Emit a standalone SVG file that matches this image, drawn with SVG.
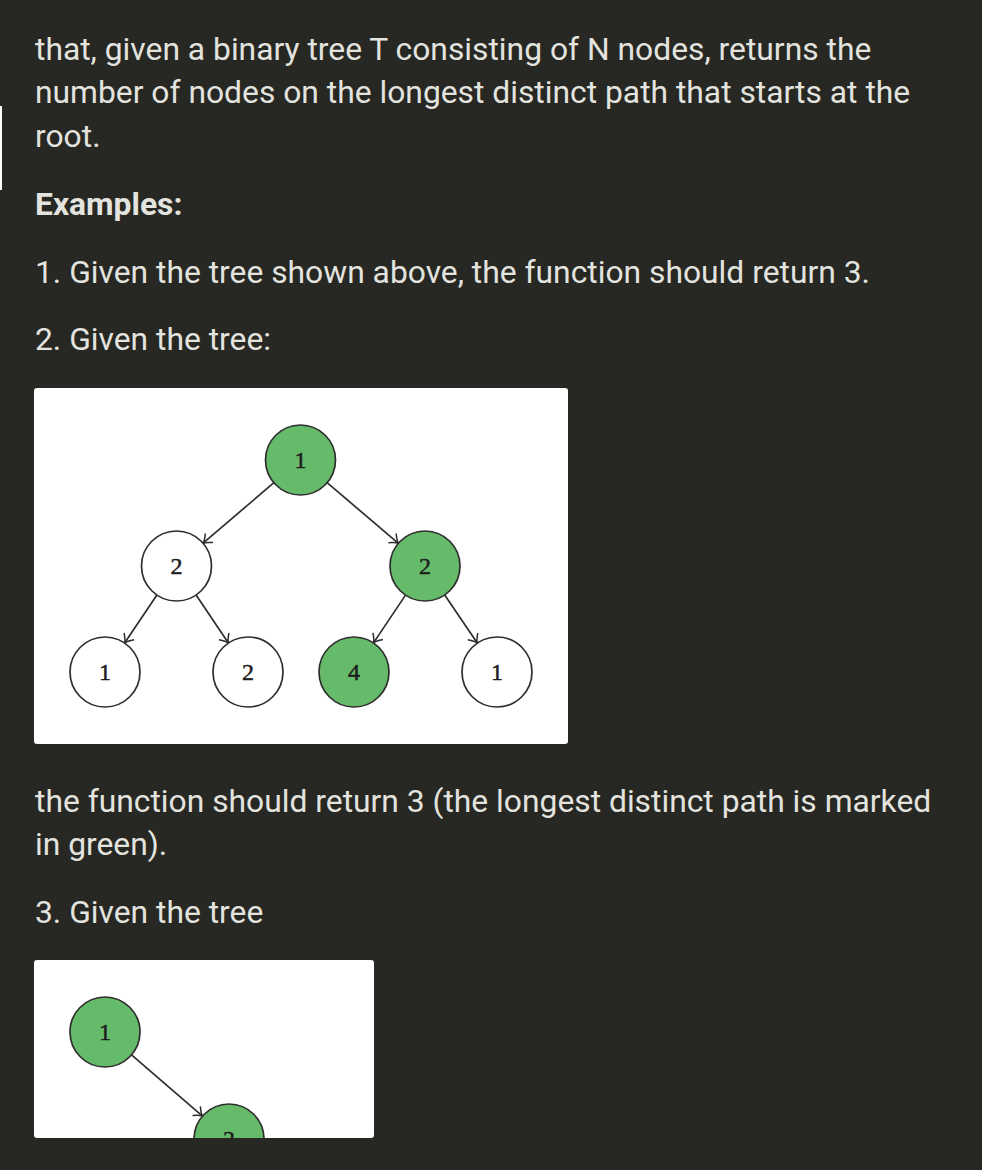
<svg xmlns="http://www.w3.org/2000/svg" width="982" height="1170" viewBox="0 0 982 1170">
<style>
.t{font-family:Roboto,"Liberation Sans",sans-serif;font-size:31.8px;fill:#e3e3df}
.b{font-weight:bold}
.n{stroke:#2e2e2e;stroke-width:1.7}
.g{fill:#66bb6a}
.w{fill:#fff}
.d{font-family:"Liberation Serif","DejaVu Serif",serif;font-size:24px;fill:#1e1e1e;stroke:#1e1e1e;stroke-width:0.5;text-anchor:middle}
.e{stroke:#2e2e2e;stroke-width:1.7;fill:none;marker-end:url(#ar)}
</style>
<defs>
<marker id="ar" markerUnits="userSpaceOnUse" markerWidth="16" markerHeight="16" viewBox="-10 -8 12 16" refX="0" refY="0" orient="auto">
<path d="M-8,-6 Q-3,-1 0,0 Q-3,1 -8,6" fill="none" stroke="#2e2e2e" stroke-width="1.5"/>
</marker>
<clipPath id="clip2"><rect x="34" y="960" width="340" height="178"/></clipPath>
</defs>
<rect x="0" y="0" width="982" height="1170" fill="#272723"/>
<rect x="0" y="106" width="2" height="84" fill="#ffffff"/>
<g id="text">
<text class="t" x="35" y="60">that, given a binary tree T consisting of N nodes, returns the</text>
<text class="t" x="35" y="103">number of nodes on the longest distinct path that starts at the</text>
<text class="t" x="35" y="147">root.</text>
<text class="t b" x="35" y="215">Examples:</text>
<text class="t" x="35" y="283">1. Given the tree shown above, the function should return 3.</text>
<text class="t" x="35" y="350">2. Given the tree:</text>
<text class="t" x="35" y="812">the function should return 3 (the longest distinct path is marked</text>
<text class="t" x="35" y="855">in green).</text>
<text class="t" x="35" y="923">3. Given the tree</text>
</g>
<rect id="box1" x="34" y="388" width="534" height="356" rx="3" fill="#fff"/>
<g id="connectors1">
<line class="e" x1="273.9" y1="482.7" x2="203.1" y2="543.2"/>
<line class="e" x1="327.1" y1="482.7" x2="398.4" y2="543.3"/>
<line class="e" x1="156.9" y1="595.0" x2="124.6" y2="643.0"/>
<line class="e" x1="196.1" y1="595.0" x2="228.4" y2="643.0"/>
<line class="e" x1="405.5" y1="595.1" x2="373.5" y2="642.9"/>
<line class="e" x1="444.7" y1="594.9" x2="477.3" y2="643.1"/>
</g>
<g id="t1-root"><circle class="n g" cx="300.5" cy="460" r="35"/><text class="d" x="300.5" y="468">1</text></g>
<g id="t1-l2"><circle class="n w" cx="176.5" cy="566" r="35"/><text class="d" x="176.5" y="574">2</text></g>
<g id="t1-r2"><circle class="n g" cx="425" cy="566" r="35"/><text class="d" x="425" y="574">2</text></g>
<g id="t1-ll1"><circle class="n w" cx="105" cy="672" r="35"/><text class="d" x="105" y="680">1</text></g>
<g id="t1-lr2"><circle class="n w" cx="248" cy="672" r="35"/><text class="d" x="248" y="680">2</text></g>
<g id="t1-rl4"><circle class="n g" cx="354" cy="672" r="35"/><text class="d" x="354" y="680">4</text></g>
<g id="t1-rr1"><circle class="n w" cx="497" cy="672" r="35"/><text class="d" x="497" y="680">1</text></g>
<rect id="box2" x="34" y="960" width="340" height="178" rx="3" fill="#fff"/>
<g clip-path="url(#clip2)">
<g id="connectors2">
<line class="e" x1="131.5" y1="1054.9" x2="202.5" y2="1116.1"/>
</g>
<g id="t2-root"><circle class="n g" cx="105" cy="1032" r="35"/><text class="d" x="105" y="1040">1</text></g>
<g id="t2-r2"><circle class="n g" cx="229" cy="1139" r="35"/><text class="d" x="229" y="1147">2</text></g>
</g>
</svg>
